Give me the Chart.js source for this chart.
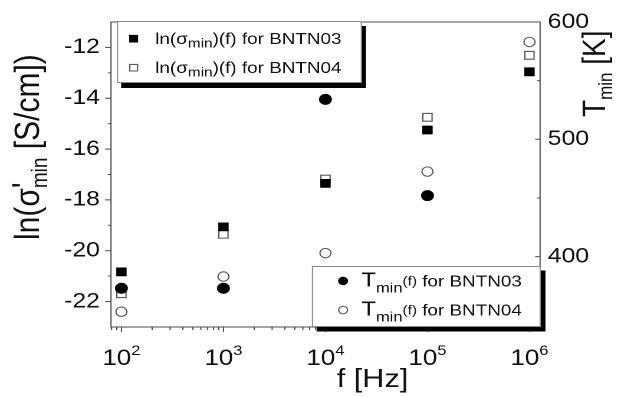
<!DOCTYPE html>
<html>
<head>
<meta charset="utf-8">
<script src="https://cdn.jsdelivr.net/npm/chart.js@4/dist/chart.umd.min.js"></script>
<style>
  html, body { margin: 0; padding: 0; background: #fff; overflow: hidden; }
  #chart { display: block; }
</style>
</head>
<body>
<!-- drawn at 535 px wide and shown stretched to 631 px, like the source figure -->
<canvas id="chart" width="535" height="397" style="width:631px;height:397px"></canvas>
<script>
// frequencies (Hz)
const freqs = [1e2, 1e3, 1e4, 1e5, 1e6];
// ln(sigma'_min) in S/cm, left axis
const lnSigmaBNTN03 = [-20.83, -19.06, -17.35, -15.25, -12.96];
const lnSigmaBNTN04 = [-21.69, -19.35, -17.18, -14.75, -12.31];
// T_min in K, right axis (BNTN03 at 1 MHz is hidden under the legend)
const tMinBNTN03 = [373, 373, 534, 452, null];
const tMinBNTN04 = [353, 383, 403, 472.5, 583];

const samples = ["BNTN03", "BNTN04"];
const xRange = [79, 1.27e6];
const lnRange = [-23, -11];
const tRange = [340, 600];

const FAMILY = '"Liberation Sans", Arial, sans-serif';
const font = (size) => `${size}px ${FAMILY}`;
const axisColor = "#4a4a4a";
const openColor = "#5a5a5a";

const toPoints = (ys) =>
  freqs.map((x, i) => ({ x: x, y: ys[i] })).filter((p) => p.y !== null);

// draw text pieces one after another, returns the end position
function drawRuns(ctx, x, y, runs) {
  for (const r of runs) {
    ctx.font = font(r.size);
    ctx.fillText(r.text, x, y + (r.dy || 0));
    if (!r.stack) x += ctx.measureText(r.text).width;
  }
  return x;
}

function drawMarker(ctx, ds, x, y, size) {
  ctx.beginPath();
  if (ds.pointStyle === "rect") ctx.rect(x - size / 2, y - size / 2, size, size);
  else ctx.arc(x, y, size / 2, 0, Math.PI * 2);
  ctx.fillStyle = ds.backgroundColor;
  ctx.fill();
  ctx.lineWidth = ds.borderWidth;
  ctx.strokeStyle = ds.borderColor;
  ctx.stroke();
}

function drawLegendBox(ctx, x, y, w, h, sx, sy) {
  ctx.fillStyle = "#000";
  ctx.fillRect(x + sx, y + sy, w, h);
  ctx.fillStyle = "#fff";
  ctx.fillRect(x, y, w, h);
  ctx.strokeStyle = "#8a8a8a";
  ctx.lineWidth = 1;
  ctx.strokeRect(x + 0.5, y + 0.5, w - 1, h - 1);
}

const decorations = {
  id: "decorations",
  afterDatasetsDraw(chart) {
    const ctx = chart.ctx;
    const { left, right, top, bottom } = chart.chartArea;
    const xs = chart.scales.x;
    const yl = chart.scales.yLn;
    const yr = chart.scales.yT;
    const sets = chart.data.datasets;
    ctx.save();

    // frame
    ctx.strokeStyle = axisColor;
    ctx.lineWidth = 1;
    ctx.strokeRect(left, top, right - left, bottom - top);

    // tick marks
    ctx.beginPath();
    xs.ticks.forEach((t) => {
      const e = Math.floor(Math.log10(t.value) + 1e-9);
      const m = t.value / Math.pow(10, e);
      if (Math.abs(m - Math.round(m)) > 1e-6) return;
      const px = xs.getPixelForValue(t.value);
      if (px < left - 0.5 || px > right + 0.5) return;
      const len = Math.round(m) === 1 ? 5 : 3;
      ctx.moveTo(px, bottom);
      ctx.lineTo(px, bottom + len);
    });
    yl.ticks.forEach((t) => {
      if (t.value <= yl.min || t.value >= yl.max) return;
      const py = yl.getPixelForValue(t.value);
      const len = t.value % 2 === 0 ? 5 : 2.5;
      ctx.moveTo(left - len, py);
      ctx.lineTo(left, py);
    });
    yr.ticks.forEach((t) => {
      if (t.value % 50 !== 0 || t.value <= yr.min || t.value >= yr.max) return;
      const py = yr.getPixelForValue(t.value);
      const len = t.value % 100 === 0 ? 4.2 : 2.5;
      ctx.moveTo(right - len, py);
      ctx.lineTo(right, py);
    });
    ctx.stroke();

    // x tick labels 10^n
    ctx.fillStyle = "#111";
    ctx.textBaseline = "alphabetic";
    ctx.textAlign = "left";
    xs.ticks.forEach((t) => {
      const e = Math.log10(t.value);
      if (Math.abs(e - Math.round(e)) > 1e-9) return;
      const px = xs.getPixelForValue(t.value);
      ctx.font = font(22);
      const wBase = ctx.measureText("10").width;
      ctx.font = font(14);
      const wExp = ctx.measureText(String(Math.round(e))).width;
      const x0 = px - (wBase + wExp) / 2;
      drawRuns(ctx, x0, 365, [
        { text: "10", size: 22 },
        { text: String(Math.round(e)), size: 14, dy: -10 },
      ]);
    });

    // axis titles
    ctx.save();
    ctx.translate(33, 240);
    ctx.rotate(-Math.PI / 2);
    drawRuns(ctx, 0, 0, [
      { text: "ln(σ", size: 30 },
      { text: "'", size: 30, dy: -2, stack: true },
      { text: "min", size: 19, dy: 7 },
      { text: " [S/cm])", size: 30 },
    ]);
    ctx.restore();

    ctx.save();
    ctx.translate(513, 117);
    ctx.rotate(-Math.PI / 2);
    drawRuns(ctx, 0, 0, [
      { text: "T", size: 28 },
      { text: "min", size: 17, dy: 6 },
      { text: " [K]", size: 28 },
    ]);
    ctx.restore();

    drawRuns(ctx, 285.5, 387, [{ text: "f [Hz]", size: 26 }]);

    // legend for the conductivity series
    drawLegendBox(ctx, 99.2, 21, 207.6, 62, 3.5, 5);
    [1, 2].forEach((k, i) => {
      const y = 44 + i * 29;
      drawMarker(ctx, sets[k], 113.3, y - 5.3, 6.6);
      ctx.fillStyle = "#111";
      drawRuns(ctx, 131.6, y, [
        { text: "ln(σ", size: 16 },
        { text: "min", size: 13, dy: 3.5 },
        { text: ")(f) for " + samples[i], size: 16 },
      ]);
    });

    // legend for the temperature series
    drawLegendBox(ctx, 264.4, 266, 194.1, 61, 4, 4.5);
    [0, 3].forEach((k, i) => {
      const y = 286.3 + i * 29;
      drawMarker(ctx, sets[k], 290.9, y - 5.3, 7.5);
      ctx.fillStyle = "#111";
      drawRuns(ctx, 306.5, y, [
        { text: "T", size: 20 },
        { text: "min", size: 14, dy: 6 },
        { text: "(f)", size: 13, dy: -1 },
        { text: " for " + samples[i], size: 16 },
      ]);
    });

    ctx.restore();
  },
};

new Chart(document.getElementById("chart"), {
  type: "scatter",
  data: {
    datasets: [
      {
        label: "Tmin(f) for BNTN03",
        data: toPoints(tMinBNTN03),
        yAxisID: "yT",
        pointStyle: "circle",
        pointRadius: 5,
        backgroundColor: "#000",
        borderColor: "#000",
        borderWidth: 1,
      },
      {
        label: "ln(σmin)(f) for BNTN03",
        data: toPoints(lnSigmaBNTN03),
        yAxisID: "yLn",
        pointStyle: "rect",
        pointRadius: 5.5,
        backgroundColor: "#000",
        borderColor: "#000",
        borderWidth: 1,
      },
      {
        label: "ln(σmin)(f) for BNTN04",
        data: toPoints(lnSigmaBNTN04),
        yAxisID: "yLn",
        pointStyle: "rect",
        pointRadius: 5.5,
        backgroundColor: "#fff",
        borderColor: openColor,
        borderWidth: 1.1,
      },
      {
        label: "Tmin(f) for BNTN04",
        data: toPoints(tMinBNTN04),
        yAxisID: "yT",
        pointStyle: "circle",
        pointRadius: 4.7,
        backgroundColor: "#fff",
        borderColor: openColor,
        borderWidth: 1.1,
      },
    ],
  },
  options: {
    responsive: false,
    devicePixelRatio: 2,
    animation: false,
    events: [],
    layout: { padding: { top: 21, left: 0, right: 0, bottom: 0 } },
    plugins: {
      legend: { display: false },
      tooltip: { enabled: false },
    },
    scales: {
      x: {
        type: "logarithmic",
        position: "bottom",
        min: xRange[0],
        max: xRange[1],
        grid: { display: false, drawTicks: false },
        border: { display: false },
        ticks: { display: false },
        afterFit: (s) => { s.height = 70; },
      },
      yLn: {
        type: "linear",
        position: "left",
        min: lnRange[0],
        max: lnRange[1],
        grid: { display: false, drawTicks: false },
        border: { display: false },
        ticks: {
          stepSize: 1,
          autoSkip: false,
          padding: 9.4,
          color: "#111",
          font: { family: FAMILY, size: 21 },
          callback: (v) => (v % 2 === 0 ? String(v) : ""),
        },
        afterFit: (s) => { s.width = 94.1; },
      },
      yT: {
        type: "linear",
        position: "right",
        min: tRange[0],
        max: tRange[1],
        grid: { display: false, drawTicks: false },
        border: { display: false },
        ticks: {
          stepSize: 50,
          autoSkip: false,
          padding: 6.5,
          color: "#111",
          font: { family: FAMILY, size: 21 },
          callback: (v) => (v % 100 === 0 ? String(v) : ""),
        },
        afterFit: (s) => { s.width = 77.1; },
      },
    },
  },
  plugins: [decorations],
});
</script>
</body>
</html>
